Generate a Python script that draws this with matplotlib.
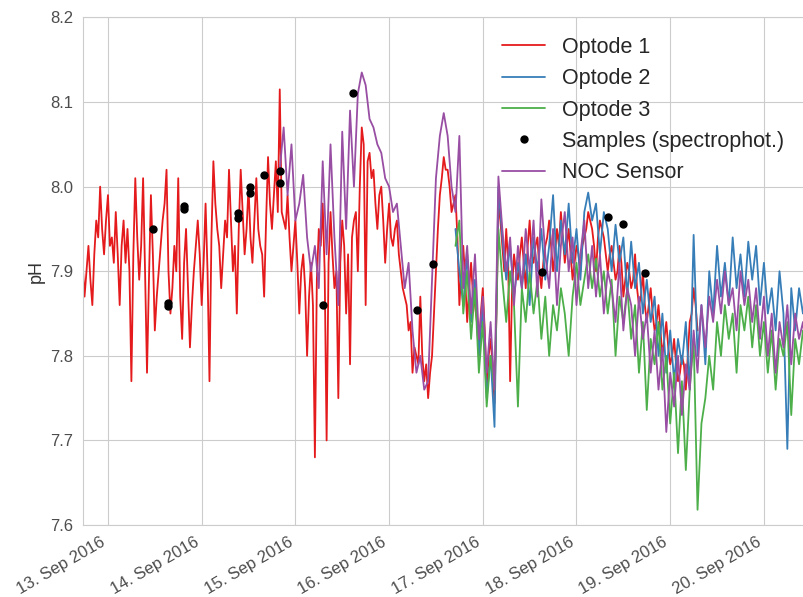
import pandas as pd
import matplotlib
matplotlib.use("Agg")
import matplotlib.pyplot as plt
import matplotlib.dates as mdates
import seaborn as sns

# Optode 1, every 30 min from 12 Sep 17:00
optode1 = [
    7.95, 7.91, 7.87, 7.90, 7.93, 7.89, 7.86, 7.92, 7.96, 7.94, 8.00, 7.95,
    7.92, 7.96, 7.99, 7.93, 7.94, 7.91, 7.97, 7.92, 7.86, 7.93, 7.96, 7.91,
    7.95, 7.90, 7.77, 7.92, 8.01, 7.94, 7.89, 7.93, 8.01, 7.90, 7.78, 7.89,
    7.99, 7.92, 7.83, 7.87, 7.90, 7.93, 7.96, 7.98, 8.02, 7.90, 7.85, 7.88,
    7.93, 7.90, 8.01, 7.87, 7.82, 7.91, 7.95, 7.88, 7.81, 7.86, 7.90, 7.93,
    7.96, 7.92, 7.86, 7.91, 7.98, 7.90, 7.77, 7.94, 8.03, 7.98, 7.95, 7.93,
    7.88, 7.92, 7.96, 7.94, 8.02, 7.96, 7.90, 7.93, 7.85, 7.95, 8.02, 7.97,
    7.92, 7.95, 8.00, 7.94, 7.91, 7.96, 8.01, 7.95, 7.93, 7.92, 7.87, 7.96,
    8.035, 7.98, 7.95, 7.99, 8.03, 7.97, 8.115, 7.97, 7.96, 7.95, 7.99, 7.94,
    7.90, 7.93, 7.96, 7.91, 7.85, 7.90, 7.92, 7.88, 7.80, 7.87, 7.91, 7.86,
    7.68, 7.89, 7.95, 7.93, 7.98, 7.90, 7.70, 7.91, 7.97, 7.92, 7.88, 7.90,
    7.75, 7.91, 7.96, 7.93, 7.85, 7.92, 7.79, 7.94, 7.96, 7.97, 7.90, 8.00,
    8.07, 8.05, 7.86, 8.03, 8.04, 8.01, 8.02, 7.98, 7.95, 7.99, 8.00, 7.96,
    7.91, 7.95, 7.98, 7.94, 7.93, 7.95, 7.96, 7.92, 7.90, 7.88, 7.87, 7.86,
    7.83, 7.84, 7.78, 7.81, 7.80, 7.79, 7.87, 7.80, 7.77, 7.79, 7.75, 7.78,
    7.80, 7.85, 7.90, 7.95, 7.99, 8.01, 8.035, 8.02, 8.02, 8.00, 7.97, 7.98,
    7.99, 7.94, 7.86, 7.90, 7.93, 7.89, 7.84, 7.88, 7.91, 7.87, 7.86, 7.84,
    7.80, 7.85, 7.88, 7.83, 7.76, 7.80, 7.82, 7.79, 7.744, 7.85, 7.98, 7.96,
    7.93, 7.90, 7.95, 7.91, 7.77, 7.88, 7.92, 7.90, 7.89, 7.92, 7.94, 7.91,
    7.88, 7.93, 7.96, 7.92, 7.91, 7.93, 7.94, 7.90, 7.88, 7.91, 7.93, 7.94,
    7.96, 7.93, 7.90, 7.92, 7.95, 7.93, 7.97, 7.94, 7.91, 7.93, 7.95, 7.92,
    7.89, 7.91, 7.93, 7.92, 7.90, 7.93, 7.94, 7.95, 7.97, 7.96, 7.95, 7.93,
    7.90, 7.94, 7.96, 7.95, 7.94, 7.92, 7.90, 7.92, 7.93, 7.91, 7.89, 7.90,
    7.93, 7.91, 7.87, 7.89, 7.91, 7.90, 7.88, 7.89, 7.92, 7.88, 7.86, 7.87,
    7.90, 7.86, 7.84, 7.86, 7.88, 7.85, 7.83, 7.84, 7.86, 7.83, 7.80, 7.82,
    7.84, 7.81, 7.79, 7.80, 7.82, 7.79, 7.77, 7.78, 7.80, 7.79, 7.76, 7.80,
    7.84, 7.85, 7.88, 7.86, 7.83,
]
# Optodes 2 and 3, hourly from 16 Sep 17:00
optode2 = [
    7.95, 7.90, 7.86, 7.92, 7.84, 7.89, 7.80, 7.86, 7.75, 7.80, 7.716, 8.00,
    7.94, 7.89, 7.93, 7.87, 7.91, 7.88, 7.92, 7.86, 7.94, 7.90, 7.95, 7.89,
    7.93, 7.99, 7.90, 7.96, 7.92, 7.98, 7.91, 7.95, 7.89, 7.97, 7.993, 7.96,
    7.98, 7.92, 7.97, 7.95, 7.90, 7.955, 7.91, 7.94, 7.87, 7.935, 7.88, 7.91,
    7.85, 7.89, 7.84, 7.87, 7.80, 7.85, 7.78, 7.83, 7.77, 7.82, 7.79, 7.84,
    7.76, 7.943, 7.80, 7.86, 7.79, 7.90, 7.85, 7.93, 7.87, 7.91, 7.86, 7.94,
    7.88, 7.92, 7.87, 7.935, 7.89, 7.93, 7.86, 7.91, 7.85, 7.88, 7.83, 7.90,
    7.85, 7.69, 7.88, 7.83, 7.88, 7.85, 7.87,
]
optode3 = [
    7.93, 7.96, 7.85, 7.90, 7.82, 7.88, 7.78, 7.84, 7.74, 7.80, 7.76, 7.95,
    7.89, 7.84, 7.90, 7.86, 7.74, 7.88, 7.84, 7.90, 7.85, 7.89, 7.82, 7.87,
    7.80, 7.86, 7.83, 7.88, 7.85, 7.80, 7.87, 7.91, 7.86, 7.89, 7.92, 7.88,
    7.915, 7.87, 7.90, 7.85, 7.89, 7.80, 7.87, 7.84, 7.88, 7.82, 7.86, 7.78,
    7.84, 7.736, 7.82, 7.79, 7.84, 7.76, 7.80, 7.72, 7.78, 7.685, 7.77, 7.665,
    7.76, 7.82, 7.618, 7.72, 7.75, 7.80, 7.76, 7.84, 7.80, 7.86, 7.82, 7.85,
    7.78, 7.86, 7.83, 7.87, 7.81, 7.86, 7.80, 7.84, 7.78, 7.83, 7.76, 7.82,
    7.80, 7.84, 7.73, 7.82, 7.79, 7.83, 7.80,
]
# NOC sensor, hourly from 14 Sep 20:00
noc = [
    8.02, 8.07, 7.99, 8.05, 7.96, 7.98, 8.014, 7.94, 7.90, 7.93, 7.88, 8.03,
    7.92, 8.05, 7.94, 7.86, 8.065, 7.95, 8.09, 8.00, 8.11, 8.135, 8.12, 8.08,
    8.07, 8.05, 8.04, 8.01, 8.00, 7.97, 7.98, 7.93, 7.88, 7.91, 7.83, 7.78,
    7.80, 7.76, 7.77, 7.89, 8.01, 8.06, 8.087, 8.06, 8.00, 7.97, 8.06, 7.88,
    7.93, 7.85, 7.92, 7.82, 7.87, 7.78, 7.84, 7.76, 8.012, 7.95, 7.90, 7.94,
    7.86, 7.93, 7.88, 7.95, 7.90, 7.96, 7.87, 7.985, 7.92, 7.88, 7.95, 7.86,
    7.93, 7.97, 7.90, 7.94, 7.86, 7.92, 7.96, 7.88, 7.93, 7.87, 7.92, 7.85,
    7.90, 7.88, 7.84, 7.91, 7.83, 7.88, 7.86, 7.80, 7.87, 7.82, 7.85, 7.78,
    7.83, 7.76, 7.81, 7.71, 7.78, 7.74, 7.80, 7.73, 7.79, 7.76, 7.83, 7.78,
    7.86, 7.81, 7.87, 7.84, 7.89, 7.85, 7.90, 7.86, 7.88, 7.83, 7.90, 7.86,
    7.89, 7.84, 7.88, 7.82, 7.87, 7.80, 7.85, 7.78, 7.84, 7.81, 7.86, 7.79,
    7.85, 7.82, 7.84, 7.80,
]

sample_times = [
    "2016-09-13 11:27", "2016-09-13 15:17", "2016-09-13 15:17",
    "2016-09-13 19:32", "2016-09-13 19:32", "2016-09-14 09:23",
    "2016-09-14 09:23", "2016-09-14 12:22", "2016-09-14 12:22",
    "2016-09-14 15:58", "2016-09-14 20:04", "2016-09-14 20:04",
    "2016-09-15 06:59", "2016-09-15 14:46", "2016-09-16 07:13",
    "2016-09-16 11:20", "2016-09-17 15:06", "2016-09-18 08:04",
    "2016-09-18 12:00", "2016-09-18 17:33",
]
sample_ph = [
    7.950, 7.863, 7.859, 7.977, 7.974, 7.969, 7.963, 8.000, 7.993,
    8.014, 8.019, 8.004, 7.860, 8.111, 7.854, 7.908, 7.899, 7.964,
    7.956, 7.898,
]

t1 = pd.date_range("2016-09-12 17:00", periods=len(optode1), freq="30min")
t23 = pd.date_range("2016-09-16 17:00", periods=len(optode2), freq="h")
tnoc = pd.date_range("2016-09-14 20:00", periods=len(noc), freq="h")
ts = pd.to_datetime(sample_times)

sns.set_style("whitegrid")
plt.rcParams["font.family"] = ["Liberation Sans", "DejaVu Sans"]
pal = sns.color_palette("Set1")

fig = plt.figure(figsize=(8.04, 5.97), dpi=100)
ax = fig.add_axes([0.1032, 0.1206, 0.8968, 0.8501])

ax.plot(t1, optode1, color=pal[0], lw=1.3, label="Optode 1")
ax.plot(t23, optode2, color=pal[1], lw=1.3, label="Optode 2")
ax.plot(t23, optode3, color=pal[2], lw=1.3, label="Optode 3")
ax.plot(ts, sample_ph, "o", color="black", ms=5, zorder=5,
        label="Samples (spectrophot.)")
ax.plot(tnoc, noc, color=pal[3], lw=1.3, label="NOC Sensor")

ax.set_ylim(7.6, 8.2)
ax.set_yticks([7.6, 7.7, 7.8, 7.9, 8.0, 8.1, 8.2])
ax.set_xlim(pd.Timestamp("2016-09-12 17:36"), pd.Timestamp("2016-09-20 10:16"))
ax.xaxis.set_major_locator(mdates.DayLocator())
ax.xaxis.set_major_formatter(mdates.DateFormatter("%d. %b %Y"))
ax.tick_params(labelsize=12, colors="#4d4d4d")
ax.set_ylabel("pH", fontsize=13, color="#333333")
for lab in ax.get_xticklabels():
    lab.set_rotation(30)
    lab.set_ha("right")

ax.legend(loc="upper right", bbox_to_anchor=(1.0, 1.0), fontsize=15.5,
          frameon=False, handlelength=2.0, handletextpad=0.8,
          labelspacing=0.48, numpoints=1)

fig.savefig("out.png", dpi=100)
